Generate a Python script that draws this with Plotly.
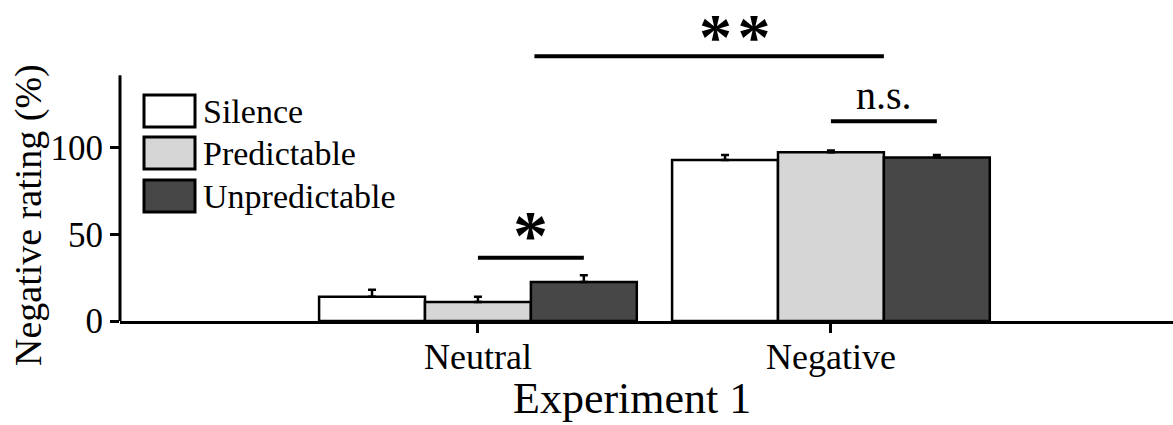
import plotly.graph_objects as go

# ---- data ----
categories = ["Neutral", "Negative"]
conditions = ["Silence", "Predictable", "Unpredictable"]
means = {
    "Silence": [14.0, 93.0],
    "Predictable": [11.0, 97.5],
    "Unpredictable": [22.5, 94.5],
}
errors = {
    "Silence": [4.0, 3.0],
    "Predictable": [3.0, 1.0],
    "Unpredictable": [4.0, 1.5],
}
y_ticks = [0, 50, 100]
y_axis_top = 142
y_range = [0, 164.7]
x_range = [-1.014, 1.969]

# significance brackets: (x0, x1, y, label)
sig_marks = [
    (0.0, 0.3, 36.5, "*"),
    (1.0, 1.3, 115.5, "n.s."),
    (0.16, 1.15, 153.0, "**"),
]

colors = {"Silence": "#ffffff", "Predictable": "#d6d6d6", "Unpredictable": "#474747"}
FONT = "Liberation Serif, Times New Roman, serif"

# layout pixel frame (for legend / label placement)
PX_L, PX_R, PX_T, PX_B = 120, 1173, 36, 321


def pxx(px):
    return (px - PX_L) / (PX_R - PX_L)


def pxy(py):
    return (PX_B - py) / (PX_B - PX_T)


fig = go.Figure()
for c in conditions:
    fig.add_trace(go.Bar(
        x=categories, y=means[c], name=c,
        marker=dict(color=colors[c], line=dict(color="black", width=2.5)),
        error_y=dict(type="data", array=errors[c], arrayminus=[0] * len(categories),
                     symmetric=False, color="black", thickness=2.5, width=4),
        showlegend=False,
    ))

shapes = []
# y axis line (only up to the axis top)
shapes.append(dict(type="line", xref="paper", yref="y", x0=0, x1=0, y0=0, y1=y_axis_top,
                   line=dict(color="black", width=3)))
annotations = []
# label offsets above the bracket lines, in pixels
label_offsets = {"*": 22, "n.s.": 26, "**": 20}
label_xshift = {"*": 0, "n.s.": 0, "**": 26}
label_sizes = {"*": 70, "n.s.": 40, "**": 66}
for x0, x1, y, label in sig_marks:
    shapes.append(dict(type="line", xref="x", yref="y", x0=x0, x1=x1, y0=y, y1=y,
                       line=dict(color="black", width=4)))
    star = "*" in label
    annotations.append(dict(
        xref="x", yref="y", x=(x0 + x1) / 2, y=y,
        text=("<b>%s</b>" % "\u200a".join(label)) if star else label,
        showarrow=False, yshift=label_offsets[label], xshift=label_xshift[label],
        font=dict(family=FONT, size=label_sizes[label], color="black"),
        yanchor="middle", xanchor="center",
    ))

# manual legend
legend_rows = [111, 153, 196]
for c, cy in zip(conditions, legend_rows):
    shapes.append(dict(type="rect", xref="paper", yref="paper",
                       x0=pxx(144), x1=pxx(195), y0=pxy(cy + 16), y1=pxy(cy - 16),
                       fillcolor=colors[c], line=dict(color="black", width=3)))
    annotations.append(dict(xref="paper", yref="paper", x=pxx(201), y=pxy(cy), text=c,
                            showarrow=False, xanchor="left", yanchor="middle",
                            font=dict(family=FONT, size=34, color="black")))

# axis titles
annotations.append(dict(xref="paper", yref="paper", x=pxx(632), y=pxy(398), text="Experiment 1",
                        showarrow=False, xanchor="center", yanchor="middle",
                        font=dict(family=FONT, size=44, color="black")))
annotations.append(dict(xref="paper", yref="paper", x=pxx(28), y=pxy(215), text="Negative rating (%)",
                        showarrow=False, xanchor="center", yanchor="middle", textangle=-90,
                        font=dict(family=FONT, size=38, color="black")))

fig.update_layout(
    width=1173, height=425,
    margin=dict(l=PX_L, r=1173 - PX_R, t=PX_T, b=425 - PX_B),
    paper_bgcolor="white", plot_bgcolor="white",
    barmode="group", bargap=0.1, bargroupgap=0.0,
    font=dict(family=FONT, color="black"),
    shapes=shapes, annotations=annotations,
    xaxis=dict(range=x_range, showline=True, linecolor="black", linewidth=3,
               ticks="outside", ticklen=9, tickwidth=3, tickcolor="black",
               ticklabelstandoff=-7,
               tickfont=dict(family=FONT, size=36, color="black"),
               showgrid=False, zeroline=False, fixedrange=True),
    yaxis=dict(range=y_range, showline=False, tickvals=y_ticks,
               ticks="outside", ticklen=9, tickwidth=3, tickcolor="black",
               tickfont=dict(family=FONT, size=35, color="black"),
               showgrid=False, zeroline=False, fixedrange=True),
)

fig.write_html("out.html", config={"displayModeBar": False},
               post_script="document.body.style.margin='0';document.body.style.overflow='hidden';")
